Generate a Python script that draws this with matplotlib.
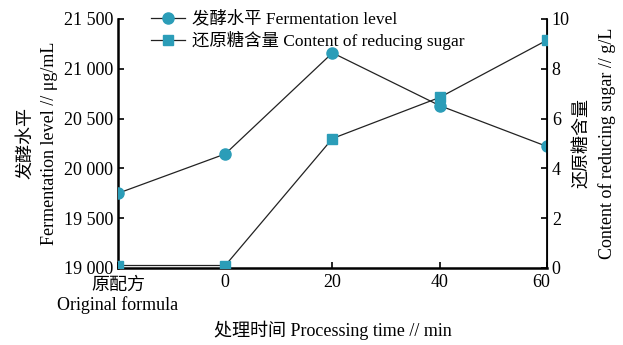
import matplotlib
matplotlib.use("Agg")
import matplotlib.pyplot as plt
import matplotlib.transforms as mtransforms
from matplotlib.ticker import FuncFormatter

plt.rcParams["font.family"] = ["Liberation Serif", "Noto Sans CJK SC", "DejaVu Sans"]

C_MARK = "#2b9db8"

categories = ["原配方\nOriginal formula", "0", "20", "40", "60"]
ferment = [19750, 20145, 21160, 20630, 20220]
sugar = [0.1, 0.1, 5.2, 6.85, 9.15]

fig = plt.figure(figsize=(6.23, 3.45), dpi=100)
ax = fig.add_axes([0.1894, 0.2232, 0.6886, 0.7218])
ax2 = ax.twinx()

x = list(range(len(categories)))
l1, = ax.plot(x, ferment, "-", color="#222222", lw=0.9, marker="o", ms=8,
              mfc=C_MARK, mec=C_MARK, label="发酵水平 Fermentation level", zorder=3)
l2, = ax2.plot(x, sugar, "-", color="#222222", lw=0.9, marker="s", ms=6.5,
               mfc=C_MARK, mec=C_MARK, label="还原糖含量 Content of reducing sugar", zorder=3)

ax.set_xlim(0, 4)
ax.set_ylim(19000, 21500)
ax.set_yticks([19000, 19500, 20000, 20500, 21000, 21500])
ax.yaxis.set_major_formatter(FuncFormatter(lambda v, p: f"{v:,.0f}".replace(",", " ")))
ax2.set_ylim(0, 10)
ax2.set_yticks([0, 2, 4, 6, 8, 10])

ax.set_xticks(x)
ax.set_xticklabels(categories, linespacing=1.15)

for a in (ax, ax2):
    a.spines["top"].set_visible(False)
    a.tick_params(direction="in", labelsize=13, length=4, width=1.2)
ax.spines["left"].set_linewidth(1.8)
ax.spines["bottom"].set_linewidth(1.8)
ax2.spines["right"].set_linewidth(1.3)
ax2.spines["left"].set_visible(False)
ax2.spines["bottom"].set_visible(False)
ax.tick_params(axis="x", pad=4)

# nudge the end x labels so they clear the y-axis labels at the corners
labels = ax.get_xticklabels()
labels[0].set_transform(labels[0].get_transform() + mtransforms.ScaledTranslation(0, -3 / 100, fig.dpi_scale_trans))
labels[-1].set_transform(labels[-1].get_transform() + mtransforms.ScaledTranslation(-6 / 100, 0, fig.dpi_scale_trans))

ax.set_ylabel("发酵水平\nFermentation level // μg/mL", fontsize=13, linespacing=1.5, labelpad=4)
ax2.set_ylabel("还原糖含量\nContent of reducing sugar // g/L", fontsize=13, linespacing=1.5,
               rotation=90, labelpad=3)
ax.set_xlabel("处理时间 Processing time // min", fontsize=13, labelpad=5)

ax.legend(handles=[l1, l2], loc="upper left", bbox_to_anchor=(0.06, 1.06), frameon=False,
          fontsize=12.5, handlelength=2.0, handletextpad=0.4, labelspacing=0.2,
          borderaxespad=0)

fig.savefig("out.png", dpi=100)
